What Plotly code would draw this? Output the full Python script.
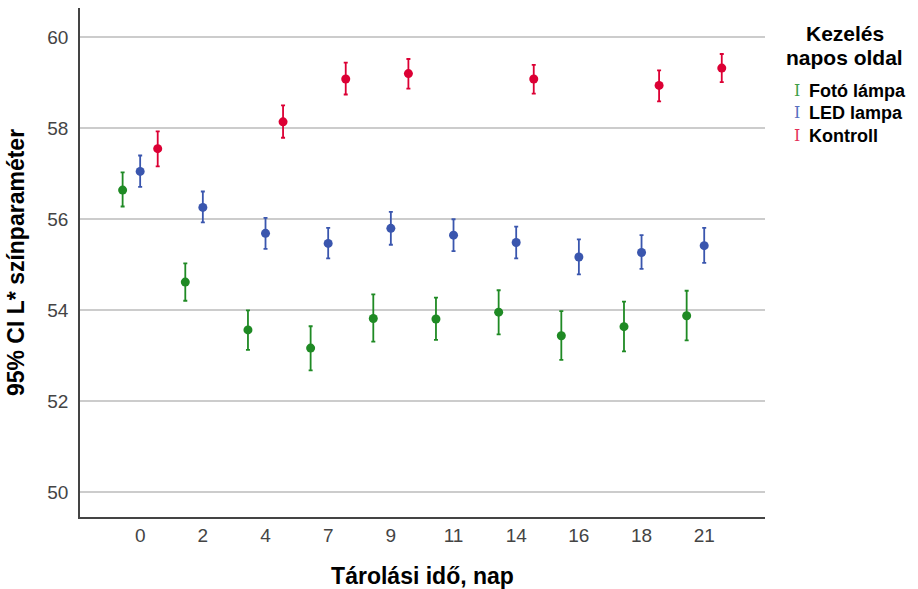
import plotly.graph_objects as go

# Storage days (categorical axis)
days = ["0", "2", "4", "7", "9", "11", "14", "16", "18", "21"]

# Fotó lámpa: mean and 95% CI bounds
foto_mean = [56.64, 54.62, 53.57, 53.17, 53.82, 53.81, 53.96, 53.44, 53.64, 53.88]
foto_hi = [57.03, 55.03, 54.00, 53.65, 54.35, 54.28, 54.44, 53.98, 54.19, 54.43]
foto_lo = [56.28, 54.21, 53.13, 52.68, 53.31, 53.35, 53.47, 52.91, 53.10, 53.34]

# LED lampa
led_mean = [57.05, 56.26, 55.69, 55.47, 55.80, 55.65, 55.49, 55.17, 55.27, 55.42]
led_hi = [57.40, 56.61, 56.03, 55.81, 56.16, 56.00, 55.84, 55.56, 55.65, 55.81]
led_lo = [56.71, 55.93, 55.35, 55.14, 55.44, 55.30, 55.14, 54.79, 54.91, 55.04]

# Kontroll (not measured on every day)
kon_mean = [57.55, None, 58.14, 59.08, 59.20, None, 59.08, None, 58.94, 59.32]
kon_hi = [57.93, None, 58.50, 59.44, 59.52, None, 59.39, None, 59.27, 59.63]
kon_lo = [57.16, None, 57.79, 58.74, 58.87, None, 58.76, None, 58.59, 59.01]

y_ticks = [50, 52, 54, 56, 58, 60]

# name, means, upper, lower, marker colour, legend glyph colour, x offset
groups = [
    ("Fotó lámpa", foto_mean, foto_hi, foto_lo, "#1f8a24", "#3fa047", -0.28),
    ("LED lampa", led_mean, led_hi, led_lo, "#3a56ae", "#5870c0", 0.0),
    ("Kontroll", kon_mean, kon_hi, kon_lo, "#dc0034", "#e43058", 0.28),
]

fig = go.Figure()
for name, mean, hi, lo, color, _, offset in groups:
    xs, ys, up, down = [], [], [], []
    for i, (m, h, l) in enumerate(zip(mean, hi, lo)):
        if m is None:
            continue
        xs.append(i + offset)
        ys.append(m)
        up.append(h - m)
        down.append(m - l)
    fig.add_trace(go.Scatter(
        x=xs, y=ys, mode="markers", name=name, showlegend=False,
        marker=dict(color=color, size=9),
        error_y=dict(type="data", symmetric=False, array=up, arrayminus=down,
                     color=color, thickness=1.8, width=2),
    ))

fig.update_layout(
    width=918, height=589,
    margin=dict(l=80, r=153, t=8, b=72, autoexpand=False),
    paper_bgcolor="white", plot_bgcolor="white",
    font=dict(family="Liberation Sans, Arial, sans-serif", color="#000"),
    xaxis=dict(
        range=[-0.96, 9.97], automargin=False,
        tickmode="array", tickvals=list(range(len(days))), ticktext=days,
        showgrid=False, zeroline=False,
        showline=True, linecolor="#444", linewidth=1.5,
        ticks="", tickfont=dict(size=19, color="#444"),
        title=dict(text="<b>Tárolási idő, nap</b>", font=dict(size=23, color="#000"),
                   standoff=24),
    ),
    yaxis=dict(
        range=[49.46, 60.64], automargin=False,
        tickmode="array", tickvals=y_ticks,
        showgrid=True, gridcolor="#cccccc", gridwidth=1.5, zeroline=False,
        showline=True, linecolor="#444", linewidth=1.5,
        ticks="", ticklabelstandoff=6,
        tickfont=dict(size=19, color="#444"),
        title=dict(text="<b>95% CI L* színparaméter</b>", font=dict(size=23, color="#000"),
                   standoff=16),
    ),
)

# Legend drawn as text: title plus an I-beam glyph per group
for line, ty in [("Kezelés", 0.949), ("napos oldal", 0.902)]:
    fig.add_annotation(text="<b>" + line + "</b>", xref="paper", yref="paper",
                       x=1.1165, y=ty, xanchor="center", yanchor="middle", showarrow=False,
                       borderpad=0, font=dict(size=21, color="#000"))
legend_y = [0.837, 0.794, 0.749]
for (name, _, _, _, _, glyph, _), ly in zip(groups, legend_y):
    fig.add_annotation(text="I", xref="paper", yref="paper", x=1.046, y=ly,
                       xanchor="center", yanchor="middle", showarrow=False,
                       font=dict(family="DejaVu Serif, serif", size=16, color=glyph))
    fig.add_annotation(text="<b>" + name + "</b>", xref="paper", yref="paper",
                       x=1.061, y=ly, xanchor="left", yanchor="middle", showarrow=False,
                       font=dict(size=18, color="#000"))

fig.write_html("out.html")
